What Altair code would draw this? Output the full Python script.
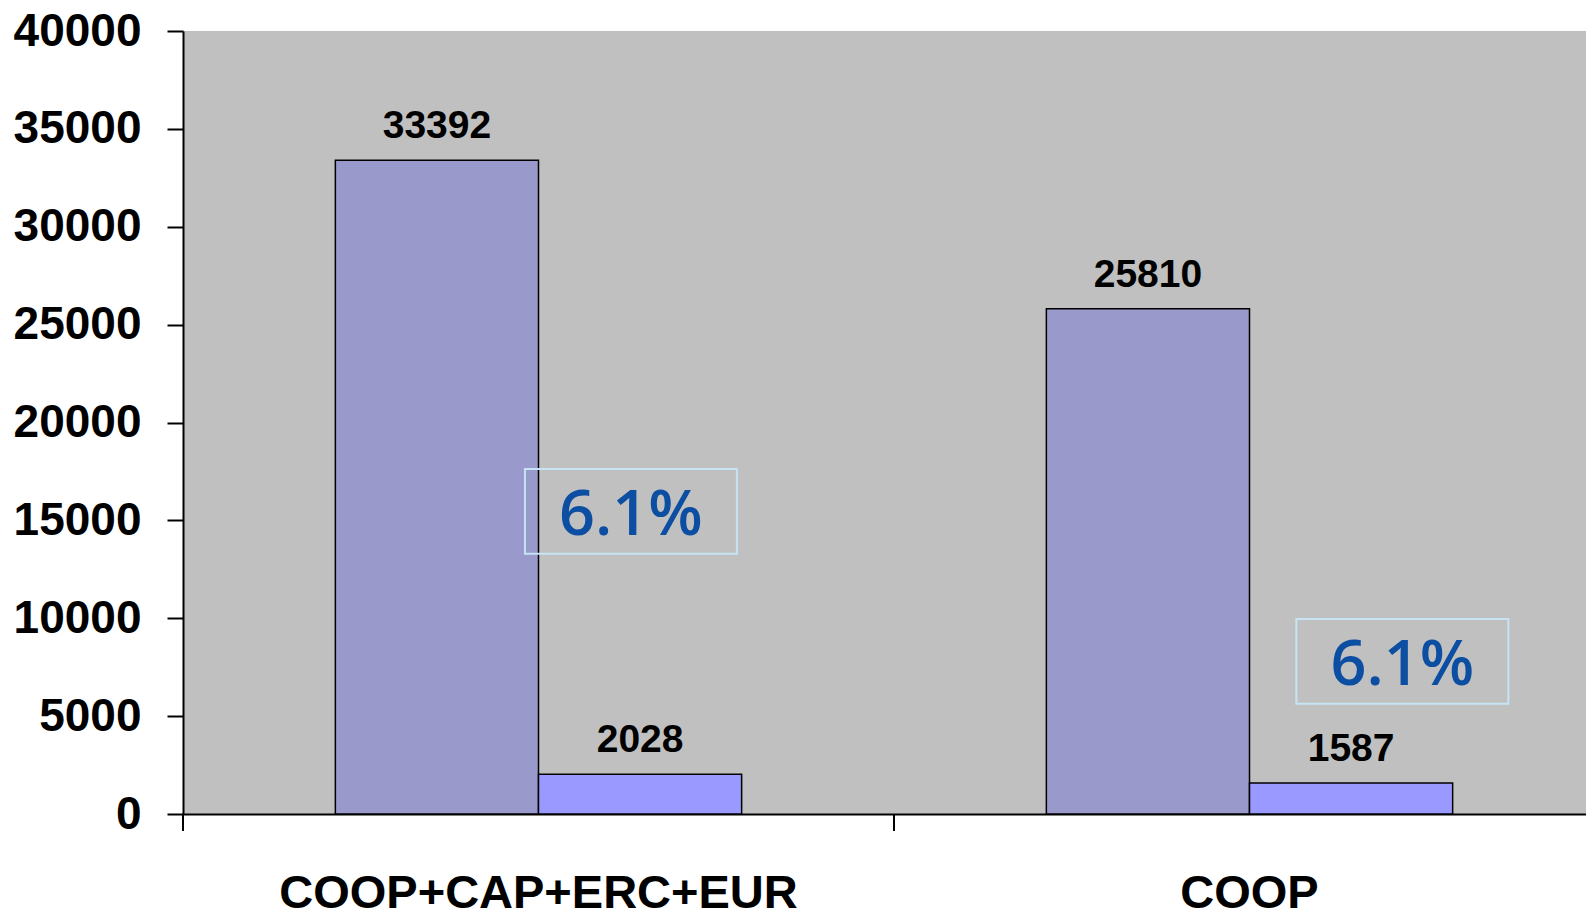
import altair as alt
import pandas as pd

# ---- data ----
categories = ["COOP+CAP+ERC+EUR", "COOP"]
series = ["Totale", "Quota"]
values_total = [33392, 25810]
values_part = [2028, 1587]
share_labels = ["6.1%", "6.1%"]
y_ticks = [0, 5000, 10000, 15000, 20000, 25000, 30000, 35000, 40000]

# annotation box placement (band position within category, value at centre)
ann_band_pos = [0.630, 0.715]
ann_value = [15460, 7800]

rows = []
for c, a, b in zip(categories, values_total, values_part):
    rows.append({"cat": c, "series": series[0], "value": a})
    rows.append({"cat": c, "series": series[1], "value": b})
df = pd.DataFrame(rows)

W, H = 1403, 783
X_RANGE = 1422  # category bands run slightly past the visible plot edge
FONT = "Liberation Sans"

x_enc = alt.X(
    "cat:N",
    sort=categories,
    scale=alt.Scale(paddingInner=0, paddingOuter=0, range=[0, X_RANGE]),
    axis=alt.Axis(
        title=None,
        ticks=False,
        labelAngle=0,
        labelLimit=0,
        labelFont=FONT,
        labelFontSize=47,
        labelFontWeight="bold",
        labelColor="black",
        labelPadding=56,
        domainColor="black",
        domainWidth=2,
    ),
)
y_enc = alt.Y(
    "value:Q",
    scale=alt.Scale(domain=[0, 40000], nice=False),
    axis=alt.Axis(
        title=None,
        values=y_ticks,
        format="d",
        grid=False,
        labelFont=FONT,
        labelFontSize=46,
        labelFontWeight="bold",
        labelColor="black",
        labelPadding=26,
        tickSize=16,
        tickColor="black",
        tickWidth=2,
        domainColor="black",
        domainWidth=2,
    ),
)
xoff = alt.XOffset(
    "series:N", sort=series, scale=alt.Scale(paddingInner=0, paddingOuter=0.75)
)

base = alt.Chart(df)

bars = base.mark_bar(stroke="black", strokeWidth=1.5).encode(
    x=x_enc,
    xOffset=xoff,
    y=y_enc,
    color=alt.Color(
        "series:N",
        sort=series,
        scale=alt.Scale(domain=series, range=["#9999CC", "#9999FF"]),
        legend=None,
    ),
)

labels = base.mark_text(
    font=FONT, fontSize=39, fontWeight="bold", color="black",
    baseline="alphabetic", dy=-22,
).encode(
    x=alt.X("cat:N", sort=categories),
    xOffset=xoff,
    y="value:Q",
    text=alt.Text("value:Q", format="d"),
)

cat_df = pd.DataFrame({"cat": categories})
xticks = alt.Chart(cat_df).mark_rule(color="black", strokeWidth=2).encode(
    x=alt.X("cat:N", sort=categories, bandPosition=0),
    y=alt.value(H),
    y2=alt.value(H + 17),
)

layers = [bars, labels, xticks]

box_path = "M-1.25,-0.5H1.25V0.5H-1.25Z"
for c, lab, bp, v in zip(categories, share_labels, ann_band_pos, ann_value):
    adf = pd.DataFrame({"cat": [c], "value": [v], "label": [lab]})
    a = alt.Chart(adf)
    box = a.mark_point(
        shape=box_path, size=28764, filled=False, stroke="#C6E4F4",
        strokeWidth=2, opacity=1,
    ).encode(
        x=alt.X("cat:N", sort=categories, bandPosition=bp),
        y="value:Q",
    )
    txt = a.mark_text(
        font="Open Sans", fontSize=63, fontWeight=600, color="#0B4EA2",
        baseline="middle", align="center", dy=5,
    ).encode(
        x=alt.X("cat:N", sort=categories, bandPosition=bp),
        y="value:Q",
        text="label:N",
    )
    layers += [box, txt]

chart = (
    alt.layer(*layers)
    .properties(
        width=W,
        height=H,
        autosize=alt.AutoSizeParams(type="none"),
        padding={"left": 175, "top": 23, "right": 0, "bottom": 98},
        view=alt.ViewBackground(fill="#C0C0C0", strokeWidth=0),
    )
    .configure(background="white")
)

chart.save("out.html", embed_options={"renderer": "svg", "actions": False})
